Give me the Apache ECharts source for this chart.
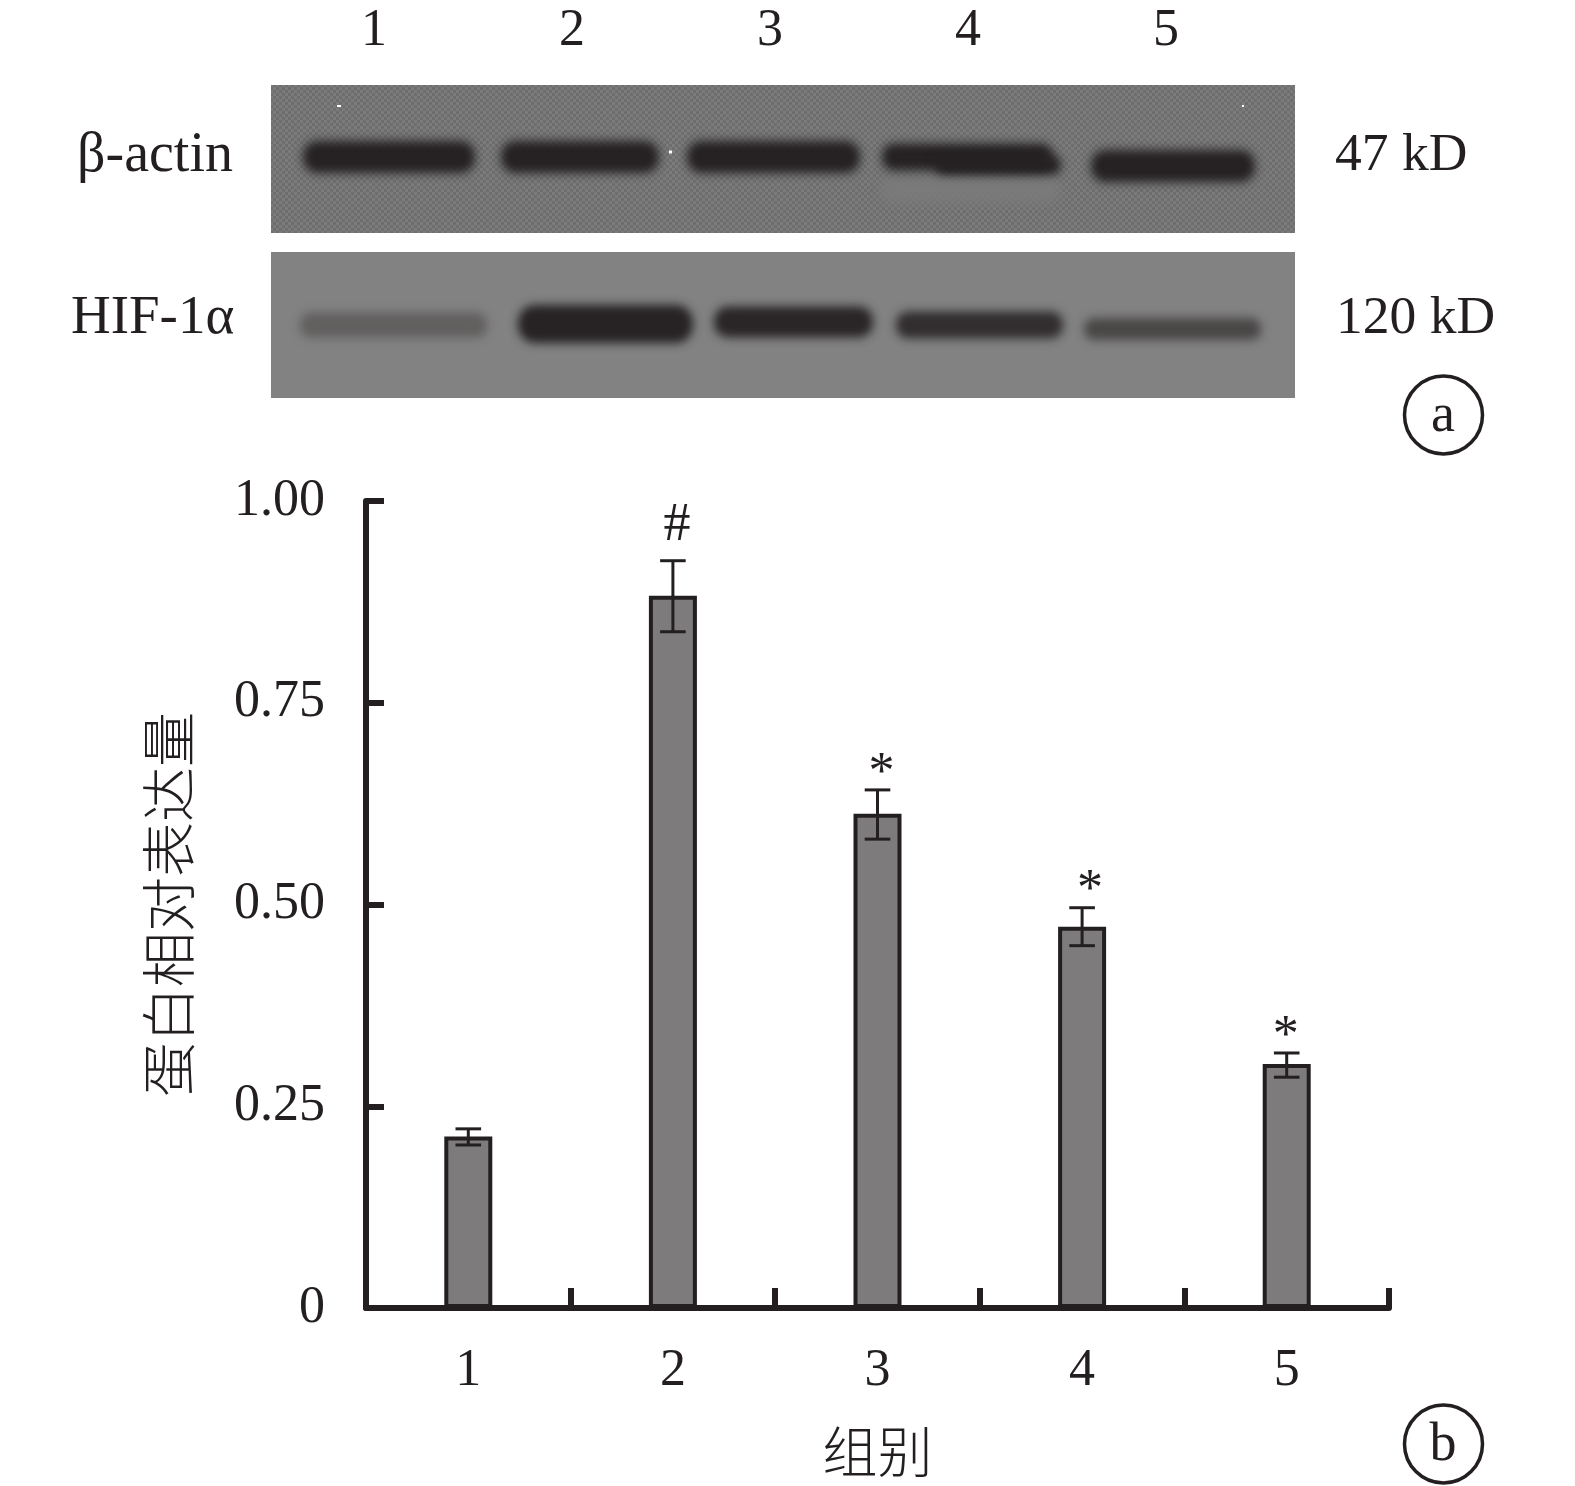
<!DOCTYPE html>
<html><head><meta charset="utf-8">
<style>html,body{margin:0;padding:0;background:#fff}#c{width:1575px;height:1486px}</style>
<script src="https://cdn.jsdelivr.net/npm/echarts@6/dist/echarts.min.js"></script>
</head><body><div id="c"></div>
<script>
const groups = ['1','2','3','4','5'];
const yTicks = {0:'0',0.25:'0.25',0.5:'0.50',0.75:'0.75',1:'1.00'};
const expression = [0.2125,0.8825,0.6125,0.4725,0.3025];
const errUpper = [0.222,0.926,0.642,0.496,0.316];
const errLower = [0.202,0.838,0.581,0.449,0.286];
const sigMarks = ['','#','*','*','*'];
const sigShift = [0,4,4,8,-1];
const lanes = ['1','2','3','4','5'];
// Blot bands in gel units: start, end, middle, height, shade
const actinStart = [609,32,230,416,611,664,820,66,398,971];
const actinEnd = [789,204,388,589,782,790,984,70,401,973];
const actinMid = [105,72,72,72,72,80,81,21,67,21];
const actinHeight = [26,32,32,32,27,19,32,2,3,2];
const actinShade = ['#7a7a7a','#262223','#262223','#262223','#262223','#262223','#262223','#ffffff','#ffffff','#ffffff'];
const hifStart = [29,247,443,625,813];
const hifEnd = [216,422,602,792,990];
const hifMid = [73,72,70,73,77];
const hifHeight = [25,38,31,27,22];
const hifShade = ['#625f5f','#272324','#2a2627','#322e2f','#4a4747'];

const ink = '#231f20';
const serif = '"Liberation Serif", serif';
const cjk = '"Noto Sans CJK SC", sans-serif';

function texture(a,b){
  const cv=document.createElement('canvas');cv.width=12;cv.height=12;
  const g=cv.getContext('2d');
  for(let i=0;i<4;i++)for(let j=0;j<4;j++){
    g.fillStyle=(i+j)%2?a:b;g.fillRect(i*3,j*3,3,3);
  }
  return cv;
}
const actinTex = texture('#6e6e6e','#7b7b7b');

function rows(s,e,m,h,c){return s.map((v,i)=>[v,e[i],m[i],h[i],c[i]]);}
function blotSeries(idx,fill,dataRows,blur){
  const far=3000; // the band shape sits off the page, only its soft shadow shows
  return [{
    type:'custom',xAxisIndex:idx,yAxisIndex:idx,silent:true,z:1,clip:true,
    data:[[0]],
    renderItem(p,api){
      const cs=p.coordSys;
      return {type:'rect',shape:{x:cs.x,y:cs.y,width:cs.width,height:cs.height},style:{fill}};
    }
  },{
    type:'custom',xAxisIndex:idx,yAxisIndex:idx,silent:true,z:2,clip:true,
    data:dataRows,
    renderItem(p,api){
      const a=api.coord([api.value(0),api.value(2)]);
      const b=api.coord([api.value(1),api.value(2)]);
      const h=api.size([0,api.value(3)])[1];
      const color=dataRows[p.dataIndex][4];
      if(h<5) return {type:'rect',shape:{x:a[0],y:a[1]-h/2,width:b[0]-a[0],height:h},style:{fill:color}};
      return {type:'rect',shape:{x:a[0]-far,y:a[1]-h/2,width:b[0]-a[0],height:h,r:h/2.2},
        style:{fill:color,shadowBlur:blur,shadowColor:color,shadowOffsetX:far}};
    }
  }];
}

const option={
  backgroundColor:'#fff',animation:false,
  grid:[
    {left:366,top:501,width:1023,height:807,outerBoundsMode:'none'},
    {left:271,top:85,width:1024,height:148,outerBoundsMode:'none'},
    {left:271,top:252,width:1024,height:146,outerBoundsMode:'none'},
    {left:275,top:85,width:990,height:1,outerBoundsMode:'none'}
  ],
  xAxis:[
    {type:'category',gridIndex:0,data:groups,boundaryGap:true,
     name:'组别',nameLocation:'middle',nameGap:116,
     nameTextStyle:{fontFamily:cjk,fontSize:55,color:ink,fontWeight:300},
     axisLine:{lineStyle:{color:ink,width:6}},
     axisTick:{show:true,inside:true,length:20,lineStyle:{color:ink,width:6},alignWithLabel:false},
     axisLabel:{margin:37,fontFamily:serif,fontSize:52,color:ink},splitLine:{show:false}},
    {type:'value',gridIndex:1,min:0,max:1024,show:false},
    {type:'value',gridIndex:2,min:0,max:1024,show:false},
    {type:'category',gridIndex:3,data:lanes,position:'top',
     axisLine:{show:false},axisTick:{show:false},
     axisLabel:{margin:28,fontFamily:serif,fontSize:52,color:ink}}
  ],
  yAxis:[
    {type:'value',gridIndex:0,min:0,max:1,interval:0.25,
     name:'蛋白相对表达量',nameLocation:'middle',nameGap:170,nameRotate:90,
     nameTextStyle:{fontFamily:cjk,fontSize:55,color:ink,fontWeight:300},
     axisLine:{show:true,lineStyle:{color:ink,width:6}},
     axisTick:{show:true,inside:true,length:18,lineStyle:{color:ink,width:6}},
     axisLabel:{margin:41,fontFamily:serif,fontSize:52,color:ink,formatter:v=>yTicks[v]},
     splitLine:{show:false}},
    {type:'value',gridIndex:1,min:0,max:148,inverse:true,show:false},
    {type:'value',gridIndex:2,min:0,max:146,inverse:true,show:false},
    {type:'value',gridIndex:3,min:0,max:1,show:false}
  ],
  series:[
    ...blotSeries(1,{image:actinTex,repeat:'repeat'},rows(actinStart,actinEnd,actinMid,actinHeight,actinShade),10),
    ...blotSeries(2,'#828282',rows(hifStart,hifEnd,hifMid,hifHeight,hifShade),10),
    {type:'bar',xAxisIndex:3,yAxisIndex:3,data:[],silent:true},
    {type:'bar',xAxisIndex:0,yAxisIndex:0,data:expression,barWidth:48,z:3,
     itemStyle:{color:'#7d7b7b',borderColor:ink,borderWidth:4},silent:true},
    {type:'custom',xAxisIndex:0,yAxisIndex:0,z:4,silent:true,clip:false,
     data:groups.map((g,i)=>[i,errLower[i],errUpper[i]]),
     renderItem(p,api){
       const i=api.value(0);
       const up=api.coord([i,api.value(2)]);
       const lo=api.coord([i,api.value(1)]);
       const x=up[0],cap=12.8;
       const line=(x1,y1,x2,y2)=>({type:'line',shape:{x1,y1,x2,y2},style:{stroke:ink,lineWidth:3,fill:null}});
       const mark=sigMarks[p.dataIndex];
       const ch=[line(x,up[1],x,lo[1]),line(x-cap,up[1],x+cap,up[1]),line(x-cap,lo[1],x+cap,lo[1])];
       if(mark){
         ch.push({type:'text',style:{text:mark,x:x+sigShift[p.dataIndex],y:up[1]-(mark==='#'?35:16),
           align:'center',verticalAlign:'middle',fontFamily:serif,fontSize:mark==='#'?54:52,fill:ink}});
       }
       return {type:'group',children:ch};
     }}
  ],
  graphic:[
    {type:'text',left:77,top:128,style:{text:'β-actin',fontFamily:serif,fontSize:56,fill:ink}},
    {type:'text',left:71,top:291,style:{text:'HIF-1α',fontFamily:serif,fontSize:55,fill:ink}},
    {type:'text',left:1335,top:129,style:{text:'47 kD',fontFamily:serif,fontSize:53.5,fill:ink}},
    {type:'text',left:1336,top:292,style:{text:'120 kD',fontFamily:serif,fontSize:53.5,fill:ink}},
    {type:'circle',shape:{cx:1443.5,cy:415,r:39},style:{fill:'none',stroke:ink,lineWidth:3.5}},
    {type:'text',x:1443,y:417,style:{text:'a',align:'center',verticalAlign:'middle',fontFamily:serif,fontSize:54,fill:ink}},
    {type:'circle',shape:{cx:1443.5,cy:1444,r:39},style:{fill:'none',stroke:ink,lineWidth:3.5}},
    {type:'text',x:1443,y:1446,style:{text:'b',align:'center',verticalAlign:'middle',fontFamily:serif,fontSize:54,fill:ink}}
  ]
};
const chart=echarts.init(document.getElementById('c'),null,{renderer:'canvas',width:1575,height:1486});
chart.setOption(option);
</script></body></html>
